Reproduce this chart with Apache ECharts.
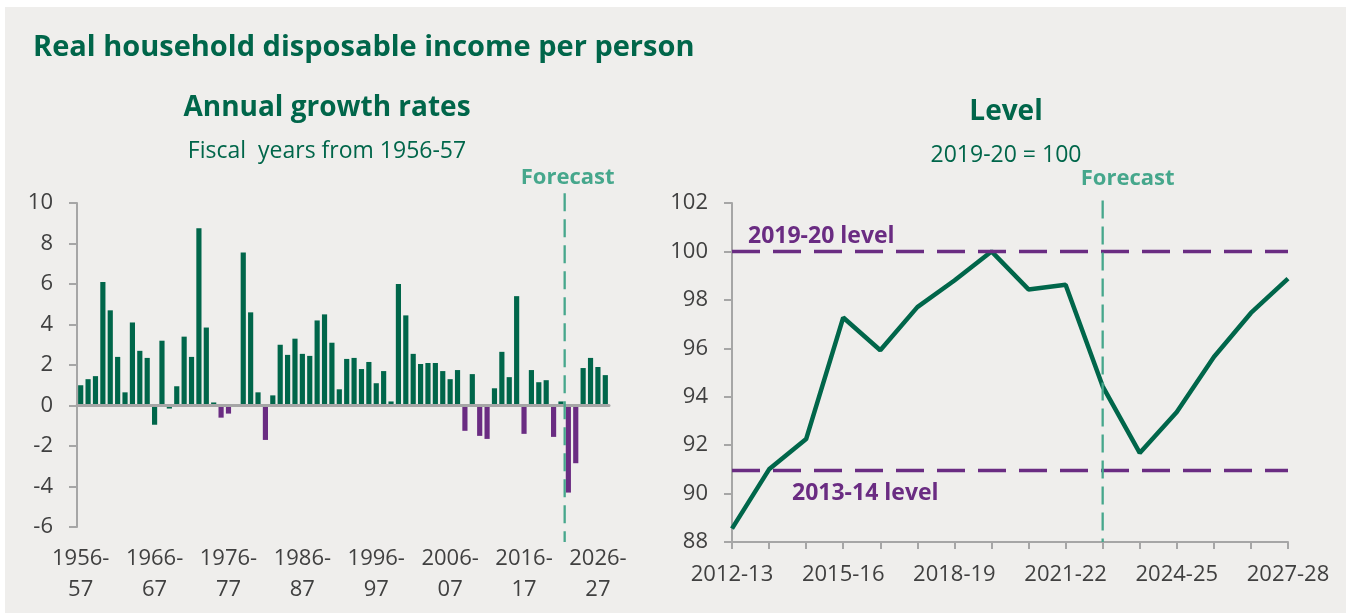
<!DOCTYPE html>
<html><head><meta charset="utf-8">
<script src="https://cdn.jsdelivr.net/npm/echarts@6/dist/echarts.min.js"></script>
<style>html,body{margin:0;padding:0;background:#fff}#c{width:1349px;height:615px}</style>
</head><body><div id="c"></div>
<script>
// ---------- DATA ----------
// Fiscal years 1956-57 ... 2027-28
const growthYears = [];
for (let y = 1956; y <= 2027; y++) growthYears.push(y + '-' + String((y + 1) % 100).padStart(2, '0'));

// Annual growth rate of real household disposable income per person (%)
const growthRates = [
  1.0, 1.3, 1.45, 6.1, 4.7, 2.4, 0.65, 4.1, 2.7, 2.35,          // 1956-57 .. 1965-66
  -0.95, 3.2, -0.15, 0.95, 3.4, 2.4, 8.75, 3.85, 0.15, -0.6,    // 1966-67 .. 1975-76
  -0.4, -0.05, 7.55, 4.6, 0.65, -1.7, 0.5, 3.0, 2.5, 3.3,       // 1976-77 .. 1985-86
  2.55, 2.45, 4.2, 4.5, 3.1, 0.8, 2.3, 2.35, 1.8, 2.15,         // 1986-87 .. 1995-96
  1.1, 1.7, 0.2, 6.0, 4.45, 2.55, 2.05, 2.1, 2.1, 1.7,          // 1996-97 .. 2005-06
  1.3, 1.75, -1.25, 1.55, -1.5, -1.65, 0.85, 2.65, 1.4, 5.4,    // 2006-07 .. 2015-16
  -1.4, 1.75, 1.15, 1.25, -1.55, 0.2, -4.3, -2.85, 1.85, 2.35,  // 2016-17 .. 2025-26
  1.9, 1.5                                                       // 2026-27 .. 2027-28
];
// years shown as falls (purple) in the chart
const purpleYears = ['1975-76','1976-77','1981-82','2008-09','2010-11','2011-12','2016-17','2020-21','2022-23','2023-24'];
const growthForecastStart = '2022-23';
const growthYTicks = [-6, 10, 2]; // min, max, interval

// Level, 2019-20 = 100
const levelYears = ['2012-13','2013-14','2014-15','2015-16','2016-17','2017-18','2018-19','2019-20',
                    '2020-21','2021-22','2022-23','2023-24','2024-25','2025-26','2026-27','2027-28'];
const levelValues = [88.55, 91.0, 92.25, 97.27, 95.92, 97.7, 98.8, 100.0,
                     98.43, 98.62, 94.43, 91.68, 93.37, 95.64, 97.46, 98.88];
const levelRefs = [{ value: 100, label: '2019-20 level' }, { value: 90.95, label: '2013-14 level' }];
const levelForecastStart = '2022-23';
const levelYTicks = [88, 102, 2];

// ---------- STYLE ----------
const GREEN = '#00664A', PURPLE = '#6A2C82', TEAL = '#46A78C', AXIS = '#A6A6A6', LABEL = '#404040';
const FONT = '"Open Sans", "Noto Sans", sans-serif';

const chart = echarts.init(document.getElementById('c'), null, { renderer: 'canvas' });

const barData = growthRates.map((v, i) => ({
  value: v,
  itemStyle: { color: purpleYears.includes(growthYears[i]) ? PURPLE : GREEN }
}));

const axisLabelStyle = { color: LABEL, fontSize: 22, fontFamily: FONT };

const option = {
  backgroundColor: '#EFEEEC',
  animation: false,
  grid: [
    { left: 77, top: 203, width: 532, height: 324 },
    { left: 732, top: 203, width: 556, height: 339 }
  ],
  xAxis: [
    { // labels of left chart
      type: 'category', gridIndex: 0, data: growthYears, position: 'bottom',
      axisLine: { show: false, onZero: false }, axisTick: { show: false },
      axisLabel: Object.assign({}, axisLabelStyle, {
        interval: 9, margin: 16, lineHeight: 31,
        formatter: v => v.replace('-', '-\n')
      })
    },
    { // zero line of left chart
      type: 'category', gridIndex: 0, data: growthYears, position: 'bottom', z: 3,
      axisLine: { show: true, onZero: true, lineStyle: { color: AXIS, width: 3 } },
      axisTick: { show: false }, axisLabel: { show: false }
    },
    { // right chart
      type: 'category', gridIndex: 1, data: levelYears, boundaryGap: false,
      axisLine: { show: true, onZero: false, lineStyle: { color: AXIS, width: 2 } },
      axisTick: { show: true, interval: 0, length: 7, lineStyle: { color: AXIS, width: 2 } },
      axisLabel: Object.assign({}, axisLabelStyle, { interval: 2, margin: 20, lineHeight: 26 })
    }
  ],
  yAxis: [
    {
      type: 'value', gridIndex: 0, min: growthYTicks[0], max: growthYTicks[1], interval: growthYTicks[2],
      axisLine: { show: true, lineStyle: { color: AXIS, width: 2 } },
      axisTick: { show: true, length: 8, lineStyle: { color: AXIS, width: 2 } },
      splitLine: { show: false },
      axisLabel: Object.assign({}, axisLabelStyle, { margin: 24 })
    },
    {
      type: 'value', gridIndex: 1, min: levelYTicks[0], max: levelYTicks[1], interval: levelYTicks[2],
      axisLine: { show: true, lineStyle: { color: AXIS, width: 2 } },
      axisTick: { show: true, length: 8, lineStyle: { color: AXIS, width: 2 } },
      splitLine: { show: false },
      axisLabel: Object.assign({}, axisLabelStyle, { margin: 24 })
    }
  ],
  series: [
    {
      type: 'bar', xAxisIndex: 0, yAxisIndex: 0, data: barData,
      barCategoryGap: '30%', silent: true
    },
    {
      type: 'line', xAxisIndex: 2, yAxisIndex: 1, data: levelValues,
      symbol: 'none', silent: true,
      lineStyle: { color: GREEN, width: 4.5 },
      markLine: {
        silent: true, symbol: ['none', 'none'], label: { show: false },
        lineStyle: { color: PURPLE, width: 3.3, type: [28, 13] },
        data: levelRefs.map(r => ({ yAxis: r.value }))
      }
    }
  ]
};
chart.setOption(option);

// ---------- annotations positioned through the axes ----------
const px = (axis, v) => chart.convertToPixel(axis, v);
const gi = growthYears.indexOf(growthForecastStart);
const lfx = (px({ xAxisIndex: 0 }, growthYears[gi - 1]) + px({ xAxisIndex: 0 }, growthYears[gi])) / 2;
const lfTop = px({ yAxisIndex: 0 }, 10.48), lfBot = px({ yAxisIndex: 0 }, -6.74);
const rfx = px({ xAxisIndex: 2 }, levelForecastStart);
const rfTop = px({ yAxisIndex: 1 }, 102.1), rfBot = px({ yAxisIndex: 1 }, 88);
const ref1y = px({ yAxisIndex: 1 }, levelRefs[0].value), ref2y = px({ yAxisIndex: 1 }, levelRefs[1].value);
const gridRightX0 = px({ xAxisIndex: 2 }, levelYears[0]);

function txt(text, x, y, font, fill, align) {
  return { type: 'text', x: x, y: y, silent: true, z: 50,
    style: { text: text, font: font, fill: fill, textAlign: align || 'center', textVerticalAlign: 'middle' } };
}
const forecastLine = (x, y1, y2) => ({ type: 'line', silent: true, z: 40,
  shape: { x1: x, y1: y1, x2: x, y2: y2 },
  style: { stroke: TEAL, lineWidth: 2.3, lineDash: [18, 8] } });

chart.setOption({
  graphic: [
    // white frame around the panel
    { type: 'rect', shape: { x: 0, y: 0, width: 1349, height: 7 }, style: { fill: '#fff' }, silent: true },
    { type: 'rect', shape: { x: 0, y: 0, width: 5, height: 615 }, style: { fill: '#fff' }, silent: true },
    { type: 'rect', shape: { x: 1346, y: 0, width: 3, height: 615 }, style: { fill: '#fff' }, silent: true },
    { type: 'rect', shape: { x: 0, y: 613, width: 1349, height: 2 }, style: { fill: '#fff' }, silent: true },
    txt('Real household disposable income per person', 33, 48, 'bold 29px ' + FONT, GREEN, 'left'),
    txt('Annual growth rates', 327, 108, 'bold 28px ' + FONT, GREEN),
    txt('Fiscal  years from 1956-57', 327, 151, '23px ' + FONT, GREEN),
    txt('Level', 1006, 112, 'bold 28px ' + FONT, GREEN),
    txt('2019-20 = 100', 1006, 155, '23px ' + FONT, GREEN),
    forecastLine(lfx, lfTop, lfBot),
    forecastLine(rfx, rfTop, rfBot),
    txt('Forecast', lfx + 3, 178, 'bold 22px ' + FONT, TEAL),
    txt('Forecast', rfx + 25, 179, 'bold 22px ' + FONT, TEAL),
    txt(levelRefs[0].label, gridRightX0 + 16, ref1y - 15, 'bold 23px ' + FONT, PURPLE, 'left'),
    txt(levelRefs[1].label, gridRightX0 + 60, ref2y + 23, 'bold 23px ' + FONT, PURPLE, 'left')
  ]
});
</script>
</body></html>
